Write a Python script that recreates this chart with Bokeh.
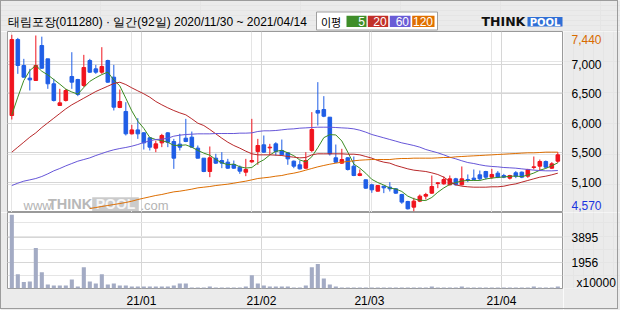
import numpy as np
from bokeh.plotting import figure
from bokeh.layouts import column, row
from bokeh.models import ColumnDataSource, Range1d, FixedTicker, Grid, Label, BoxAnnotation
from bokeh.core.properties import value
from bokeh.embed import file_html
from bokeh.resources import INLINE

# ---------------- data ----------------
TITLE = "태림포장(011280) · 일간(92일) 2020/11/30 ~ 2021/04/14"
MA_TITLE = "이평"
MA_PERIODS = [5, 20, 60, 120]
MONTH_FIRST_IDX = [22, 42, 60, 82]
MONTH_LABELS = ["21/01", "21/02", "21/03", "21/04"]
PRICE_GRID = [5045, 5525, 6005, 6485, 6965]
PRICE_LABELS = ["5,100", "5,500", "6,000", "6,500", "7,000"]
VOL_GRID = [1956, 3895]
VOL_UNIT = "x10000"

OPEN = [6127, 7364, 6941, 6735, 6697, 7266, 7049, 6643, 6290, 6371,
        6762, 6713, 6616, 7022, 6886, 6832, 7022, 6751, 6258, 6193,
        5829, 5893, 5845, 5764, 5596, 5682, 5845, 5704, 5661, 5758,
        5775, 5596, 5433, 5216, 5433, 5395, 5368, 5330, 5287, 5205,
        5373, 5542, 5650, 5601, 5666, 5558, 5520, 5384, 5325, 5270,
        5558, 6209, 6225, 6100, 5439, 5352, 5439, 5303, 5151, 5081,
        5000, 4896, 4978, 4961, 4934, 4842, 4728, 4636, 4734, 4815,
        4864, 5021, 5016, 5000, 5097, 5000, 5086, 5108, 5162, 5216,
        5124, 5189, 5151, 5108, 5195, 5205, 5140, 5281, 5303, 5379,
        5270, 5384]
HIGH = [7440, 7390, 7049, 6886, 7429, 7410, 7049, 6724, 6561, 6561,
        7157, 6724, 7114, 7049, 6951, 7239, 7035, 6951, 6550, 6344,
        5975, 6084, 5856, 5775, 5720, 5829, 5856, 5747, 5829, 6073,
        5866, 5639, 5433, 5623, 5504, 5531, 5422, 5395, 5314, 5422,
        6073, 5747, 5802, 5666, 5693, 5736, 5531, 5395, 5395, 5531,
        6182, 6670, 6442, 6100, 5655, 5585, 5449, 5460, 5249, 5086,
        5016, 4988, 4978, 5043, 4945, 4853, 4739, 4788, 4842, 4869,
        5151, 5043, 5135, 5151, 5113, 5298, 5168, 5249, 5232, 5227,
        5259, 5222, 5178, 5162, 5222, 5216, 5259, 5460, 5411, 5395,
        5368, 5531]
LOW = [6062, 6805, 6745, 6534, 6690, 6886, 6561, 6355, 6290, 6355,
       6561, 6442, 6589, 6822, 6805, 6805, 6659, 6209, 6247, 5802,
       5818, 5747, 5574, 5558, 5531, 5612, 5612, 5259, 5558, 5693,
       5607, 5430, 5205, 5124, 5341, 5270, 5259, 5259, 5178, 5140,
       5357, 5325, 5520, 5487, 5476, 5476, 5325, 5270, 5249, 5259,
       5531, 5964, 6100, 5476, 5357, 5341, 5232, 5140, 5140, 4934,
       4869, 4891, 4864, 4891, 4853, 4690, 4598, 4570, 4718, 4761,
       4853, 4945, 5000, 4988, 4988, 4988, 5043, 5070, 5070, 5086,
       5097, 5108, 5108, 5086, 5108, 5108, 5113, 5249, 5222, 5276,
       5259, 5357]
CLOSE = [7364, 6941, 6751, 6707, 6941, 6897, 6643, 6371, 6333, 6534,
         6670, 6469, 6908, 6832, 6832, 6924, 6670, 6263, 6355, 5829,
         5893, 5829, 5682, 5612, 5666, 5802, 5693, 5433, 5612, 5704,
         5612, 5433, 5216, 5439, 5352, 5352, 5270, 5270, 5222, 5249,
         5395, 5639, 5531, 5612, 5542, 5487, 5422, 5303, 5259, 5395,
         5899, 6166, 6116, 5504, 5368, 5411, 5249, 5151, 5178, 4945,
         4918, 4988, 4950, 4934, 4864, 4718, 4609, 4734, 4815, 4842,
         4972, 5032, 5086, 5097, 5000, 5097, 5070, 5086, 5097, 5124,
         5168, 5124, 5124, 5151, 5140, 5124, 5249, 5292, 5379, 5287,
         5341, 5487]
VOLUME = [5628, 1079, 488, 540, 3084, 1234, 308, 231, 231, 231,
          694, 154, 1619, 540, 386, 1079, 308, 386, 231, 231,
          154, 154, 154, 154, 154, 154, 154, 231, 386, 386,
          77, 77, 77, 154, 77, 77, 77, 77, 77, 154,
          1002, 386, 231, 154, 154, 154, 154, 77, 77, 231,
          1619, 1876, 771, 308, 154, 77, 77, 77, 77, 77,
          77, 77, 77, 77, 77, 77, 77, 77, 77, 77,
          154, 77, 77, 77, 77, 154, 77, 77, 77, 77,
          77, 77, 77, 77, 77, 77, 77, 154, 77, 77,
          77, 154]
MA5 = [6138, 6426, 6697, 6859, 6941, 6847, 6788, 6712, 6637, 6556,
       6510, 6475, 6583, 6683, 6742, 6793, 6833, 6704, 6609, 6408,
       6202, 6034, 5918, 5769, 5736, 5718, 5691, 5641, 5641, 5649,
       5611, 5559, 5515, 5481, 5410, 5358, 5326, 5337, 5293, 5273,
       5281, 5355, 5407, 5485, 5544, 5562, 5519, 5473, 5403, 5373,
       5456, 5604, 5767, 5816, 5811, 5713, 5530, 5337, 5271, 5187,
       5088, 5036, 4996, 4947, 4931, 4891, 4815, 4772, 4748, 4744,
       4794, 4879, 4949, 5006, 5037, 5062, 5070, 5070, 5070, 5095,
       5109, 5120, 5127, 5138, 5141, 5133, 5158, 5191, 5237, 5266,
       5310, 5357]
MA20 = [5531, 5612, 5693, 5775, 5845, 5932, 6008, 6084, 6160, 6236,
        6301, 6355, 6409, 6463, 6518, 6561, 6604, 6648, 6669, 6631,
        6577, 6528, 6480, 6425, 6355, 6301, 6252, 6208, 6170, 6138,
        6073, 6002, 5964, 5899, 5829, 5758, 5693, 5639, 5596, 5547,
        5504, 5487, 5487, 5487, 5482, 5476, 5460, 5449, 5438, 5444,
        5487, 5504, 5504, 5504, 5504, 5504, 5498, 5498, 5487, 5460,
        5433, 5395, 5368, 5352, 5314, 5287, 5259, 5238, 5227, 5216,
        5194, 5167, 5124, 5053, 4999, 4977, 4967, 4961, 4961, 4961,
        4967, 4967, 4977, 4999, 5015, 5043, 5070, 5097, 5124, 5140,
        5162, 5189]
MA60 = [4988, 5026, 5059, 5080, 5102, 5135, 5178, 5227, 5265, 5308,
        5346, 5384, 5411, 5438, 5476, 5509, 5542, 5569, 5590, 5607,
        5628, 5655, 5688, 5715, 5737, 5742, 5758, 5791, 5807, 5818,
        5823, 5829, 5829, 5829, 5834, 5834, 5834, 5834, 5840, 5840,
        5845, 5867, 5878, 5878, 5883, 5894, 5905, 5910, 5921, 5926,
        5932, 5937, 5937, 5937, 5932, 5926, 5921, 5910, 5888, 5856,
        5818, 5791, 5764, 5737, 5710, 5682, 5661, 5639, 5612, 5574,
        5547, 5520, 5487, 5449, 5422, 5390, 5362, 5346, 5325, 5308,
        5298, 5292, 5281, 5276, 5270, 5259, 5249, 5238, 5232, 5227,
        5227, 5232]
# MA120 is only drawn from the 14th bar onward
MA120 = [4614, 4630, 4647, 4663, 4679, 4695, 4712,
         4733, 4760, 4782, 4804, 4826, 4842, 4864, 4885, 4896, 4912,
         4929, 4950, 4961, 4972, 4988, 4999, 5010, 5026, 5043, 5059,
         5080, 5102, 5113, 5124, 5140, 5151, 5173, 5189, 5211, 5238,
         5265, 5292, 5314, 5335, 5352, 5368, 5379, 5390, 5400, 5406,
         5411, 5411, 5411, 5411, 5422, 5428, 5428, 5433, 5433, 5433,
         5433, 5438, 5444, 5444, 5455, 5460, 5466, 5471, 5476, 5482,
         5487, 5493, 5498, 5504, 5509, 5515, 5520, 5520, 5525, 5531,
         5531, 5531]

# ---------------- styles ----------------
BG = "#ebebeb"
RED = "#f0141e"
BLUE = "#1f5ee6"
VOLC = "#a3abc4"
GRIDC = "#d6d6d6"
FRAMEC = "#9a9a9a"
MA_COLORS = ["#3c8c22", "#b8282a", "#6656d8", "#dd6e00"]
LEG_COLORS = ["#3f8e2a", "#c23029", "#6a5cd6", "#e07000"]
MAX_COLOR = "#d86a00"
MIN_COLOR = "#1a34e0"
FONT = "Liberation Sans"
LOGO_FONT = "DejaVu Sans"

n = len(CLOSE)
idx = np.arange(n)
X0, X1 = -0.72, n - 0.22
Y0, Y1 = 4549, 7494
V0, V1 = 0, 5800
PX_L, PX_R = 7, 562
PY_T, PY_B = 31, 212
LAB_X = 8   # left edge of right-hand labels, inside the label strip


def px2x(px):
    return X0 + (px - PX_L) * (X1 - X0) / (PX_R - PX_L)


def py2y(py):
    return Y1 - (py - PY_T) * (Y1 - Y0) / (PY_B - PY_T)


def vy(py):
    return V1 - (py - 212) * (V1 - V0) / 76.0


month_pos = [m - 0.4 for m in MONTH_FIRST_IDX]
colors = [RED if c >= o else BLUE for o, c in zip(OPEN, CLOSE)]
src = ColumnDataSource(dict(
    x=idx, h=HIGH, l=LOW,
    top=[max(o, c) for o, c in zip(OPEN, CLOSE)],
    bot=[min(o, c) for o, c in zip(OPEN, CLOSE)],
    col=colors, vol=VOLUME))

xr = Range1d(X0, X1)
pyr = Range1d(Y0, Y1)
vyr = Range1d(V0, V1)


def strip(width, height, y_range, bottom=0):
    f = figure(width=width, height=height, x_range=Range1d(0, width), y_range=y_range,
               toolbar_location=None, output_backend="svg", title=None,
               min_border_left=0, min_border_right=0, min_border_top=0, min_border_bottom=bottom,
               x_axis_location=None, y_axis_location=None,
               background_fill_color=BG, border_fill_color=BG, outline_line_color=None)
    return f


# ---------------- header ----------------
hdr = figure(width=620, height=31, x_range=Range1d(0, 620), y_range=Range1d(31, 0),
             toolbar_location=None, output_backend="svg", min_border=0, title=None,
             x_axis_location=None, y_axis_location=None,
             background_fill_color=BG, border_fill_color=BG, outline_line_color=None)
hdr.text(x=[7], y=[21.5], text=[TITLE], text_baseline="middle", text_align="left",
         text_font=value(FONT), text_font_size="12px", text_color="#000000")
hdr.quad(left=[316], right=[437], top=[11.5], bottom=[29.5], fill_color="white",
         line_color="#a0a0a0", line_width=1)
hdr.text(x=[320.5], y=[21], text=[MA_TITLE], text_baseline="middle", text_align="left",
         text_font=value("Noto Sans CJK KR"), text_font_size="11px", text_color="#000000")
cell_l = [346, 367.3, 389.3, 411.7]
cell_r = [366, 387.7, 410, 434]
hdr.quad(left=cell_l, right=cell_r, top=[15.3] * 4, bottom=[26.5] * 4,
         fill_color=LEG_COLORS, line_color=None)
hdr.text(x=[r - 1.5 for r in cell_r], y=[21] * 4, text=[str(m) for m in MA_PERIODS],
         text_baseline="middle", text_align="right", text_font=value(FONT),
         text_font_size="12px", text_color="white")
# THINKPOOL logo
hdr.text(x=[481], y=[20.5], text=["THINK"], text_baseline="middle", text_align="left",
         text_font=value(LOGO_FONT), text_font_style="bold", text_font_size="12.5px",
         text_color="#111111")
hdr.quad(left=[527], right=[562], top=[16.5], bottom=[26], fill_color="#2f6fd6", line_color=None)
hdr.text(x=[544.5], y=[21.5], text=["POOL"], text_baseline="middle", text_align="center",
         text_font=value(LOGO_FONT), text_font_style="bold", text_font_size="10px",
         text_color="white")

# ---------------- price panel ----------------
p = figure(width=563, height=181, x_range=xr, y_range=pyr,
           toolbar_location=None, output_backend="svg", title=None,
           min_border_left=7, min_border_right=1, min_border_top=0, min_border_bottom=0,
           x_axis_location=None, y_axis_location=None,
           background_fill_color="white", border_fill_color=BG, outline_line_color=FRAMEC)
p.add_layout(Grid(dimension=1, ticker=FixedTicker(ticks=PRICE_GRID), grid_line_color=GRIDC))
p.add_layout(Grid(dimension=0, ticker=FixedTicker(ticks=month_pos), grid_line_color=GRIDC))

# watermark
WM = "#b4b4b4"
p.add_layout(Label(x=px2x(23), y=py2y(204.5), text="www.", text_font=FONT, text_font_size="13px",
                   text_color=WM, text_baseline="middle", text_align="left", level="underlay"))
p.add_layout(Label(x=px2x(47.5), y=py2y(203.5), text="THINK", text_font=FONT, text_font_style="bold",
                   text_font_size="14.5px", text_color="#b8b8b8", text_baseline="middle",
                   text_align="left", level="underlay"))
p.add_layout(BoxAnnotation(left=px2x(91.7), right=px2x(138.3), top=py2y(196.7), bottom=py2y(210.5),
                           fill_color="#cbcbcb", fill_alpha=1.0, line_color=None, level="underlay"))
p.add_layout(Label(x=px2x(115), y=py2y(203.5), text="POOL", text_font=FONT, text_font_style="bold",
                   text_font_size="14px", text_color="#f6f6f6", text_baseline="middle",
                   text_align="center", level="underlay"))
p.add_layout(Label(x=px2x(140), y=py2y(204.5), text=".com", text_font=FONT, text_font_size="13px",
                   text_color=WM, text_baseline="middle", text_align="left", level="underlay"))

p.segment(x0="x", y0="h", x1="x", y1="l", source=src, line_color="col", line_width=1)
p.vbar(x="x", width=0.6, top="top", bottom="bot", source=src,
       fill_color="col", line_color="col", line_width=1)

p.line(idx, MA5, line_color=MA_COLORS[0], line_width=1)
p.line(idx, MA20, line_color=MA_COLORS[1], line_width=1)
p.line(idx, MA60, line_color=MA_COLORS[2], line_width=1)
ma120_x = np.arange(n - len(MA120), n)
p.line(ma120_x, MA120, line_color=MA_COLORS[3], line_width=1)

# right-hand price labels (strip sharing the price y-range)
pl = strip(57, 181, pyr)
pl.text(x=[LAB_X] * len(PRICE_GRID), y=PRICE_GRID, text=PRICE_LABELS,
        text_baseline="middle", text_align="left", text_font=value(FONT),
        text_font_size="12px", text_color="#000000")
pl.text(x=[LAB_X], y=[py2y(38.5)], text=[f"{max(HIGH):,}"], text_baseline="middle",
        text_align="left", text_font=value(FONT), text_font_size="12px", text_color=MAX_COLOR)
pl.text(x=[LAB_X], y=[py2y(205)], text=[f"{min(LOW):,}"], text_baseline="middle",
        text_align="left", text_font=value(FONT), text_font_size="12px", text_color=MIN_COLOR)

# ---------------- volume panel ----------------
v = figure(width=563, height=98, x_range=xr, y_range=vyr,
           toolbar_location=None, output_backend="svg", title=None,
           min_border_left=7, min_border_right=1, min_border_top=0, min_border_bottom=22,
           x_axis_location="below", y_axis_location=None,
           background_fill_color="white", border_fill_color=BG, outline_line_color=FRAMEC)
xax = v.xaxis[0]
xax.ticker = FixedTicker(ticks=month_pos)
xax.major_label_overrides = dict(zip(month_pos, MONTH_LABELS))
xax.axis_line_color = None
xax.major_tick_line_color = None
xax.minor_tick_line_color = None
xax.major_tick_out = 0
xax.major_label_text_font = FONT
xax.major_label_text_font_size = "12px"
xax.major_label_text_color = "#000000"
xax.major_label_standoff = 5
v.xgrid.grid_line_color = GRIDC
v.add_layout(Grid(dimension=1, ticker=FixedTicker(ticks=VOL_GRID), grid_line_color=GRIDC))
v.vbar(x="x", width=0.68, top="vol", bottom=0, source=src, fill_color=VOLC, line_color=None)

vl = strip(57, 98, vyr, bottom=22)
vl.text(x=[LAB_X] * len(VOL_GRID), y=VOL_GRID, text=[str(t) for t in VOL_GRID],
        text_baseline="middle", text_align="left", text_font=value(FONT),
        text_font_size="12px", text_color="#000000")
vl.text(x=[13], y=[vy(282)], text=[VOL_UNIT], text_baseline="middle", text_align="left",
        text_font=value(FONT), text_font_size="12px", text_color="#000000")

BORDER_CSS = (":host::after{content:'';position:absolute;left:0;top:0;width:618px;height:309px;"
              "border:1px solid #9c9c9c;box-sizing:border-box;pointer-events:none;z-index:50;}")
layout = column(hdr, row(p, pl), row(v, vl),
                styles={"position": "relative"}, stylesheets=[BORDER_CSS])
open("out.html", "w").write(file_html(layout, INLINE))
